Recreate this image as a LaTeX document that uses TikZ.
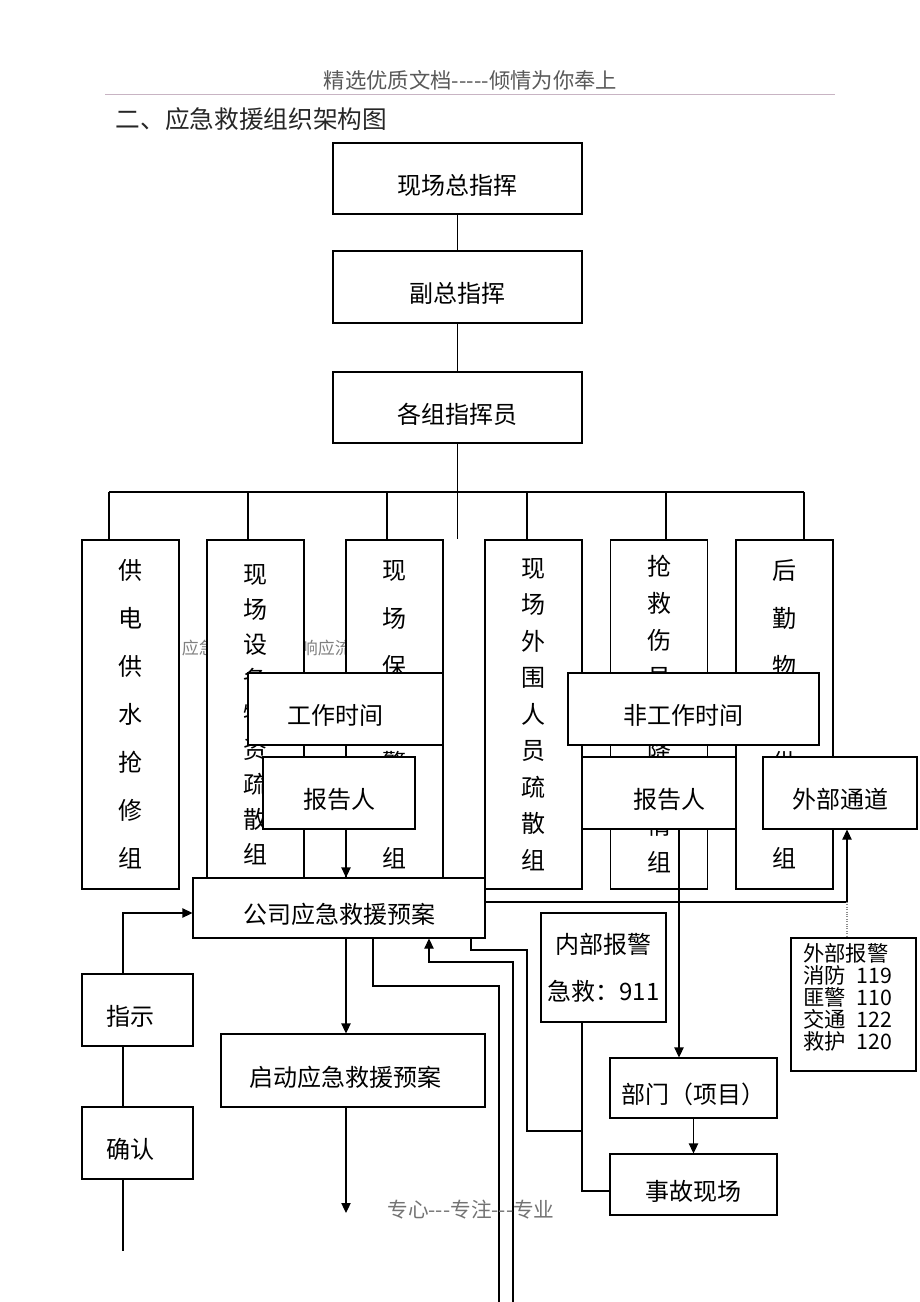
\documentclass[tikz,border=0pt]{standalone}
\usepackage{fontspec}
\newfontfamily\cjk{Noto Sans CJK SC}
\usetikzlibrary{calc,arrows.meta}
\definecolor{hdline}{RGB}{200,180,195}
\tikzset{
  box/.style={draw,fill=white,line width=0.8pt,inner sep=0pt,font=\cjk\fontsize{18}{18}\selectfont},
  sz/.style 2 args={minimum width=#1*0.75pt,minimum height=#2*0.75pt},
  dn/.style={text height=25pt,text depth=1.5pt},
  sh/.style={execute at begin node={\hspace*{#1}}},
  grp/.style={box,sz={97}{349},align=center,font=\cjk\fontsize{18}{#1}\selectfont}
}
\begin{document}
\begin{tikzpicture}[x=0.75pt,y=-0.75pt,line width=0.8pt,>={Triangle[length=7.5pt,width=7pt]}]
\useasboundingbox (0,0) rectangle (920,1302);
\node[font=\cjk\fontsize{16}{16}\selectfont,text=black!65] (hd) at (470.5,80) {精选优质文档-{}-{}-{}-{}-倾情为你奉上};
\draw[hdline,line width=0.7pt] (105,94) -- (835,94);
\node[anchor=west,font=\cjk\fontsize{18.5}{18.5}\selectfont,text=black!85] (tt) at (111,119) {二、应急救援组织架构图};
\node[anchor=west,font=\cjk\fontsize{12.75}{12.75}\selectfont,text=black!50] (bg) at (177,648) {应急救援预案及响应流程};

\node[box,dn,sz={249}{71}] (zzh) at (457.5,178.5) {现场总指挥};
\node[box,dn,sz={249}{72}] (fzh) at (457.5,287) {副总指挥};
\node[box,dn,sz={249}{71}] (gzy) at (457.5,407.5) {各组指挥员};
\draw (zzh) -- (fzh);
\draw (fzh) -- (gzy);

\node[grp=36pt] (c1) at (130.5,714.5) {供\\电\\供\\水\\抢\\修\\组};
\node[grp=26.25pt] (c2) at (255.5,714.5) {现\\场\\设\\备\\物\\资\\疏\\散\\组};
\node[grp=36pt] (c3) at (394.5,714.5) {现\\场\\保\\卫\\警\\戒\\组};
\node[grp=27.4pt] (c4) at (533.5,714.5) {现\\场\\外\\围\\人\\员\\疏\\散\\组};
\node[grp=27.75pt] (c5) at (659,714.5) {抢\\救\\伤\\员\\及\\降\\灾\\情\\组};
\node[grp=36pt] (c6) at (784.5,714.5) {后\\勤\\物\\资\\供\\应\\组};
\draw (gzy) -- (gzy.south |- c1.north);
\draw (109,492) -- (804,492);
\foreach \c/\x in {c1/109,c2/248,c3/387,c4/527,c5/666,c6/804}
  \draw (\x,492) -- (\c.north -| \x,0);

\node[box,dn,sz={195}{72},sh=-15pt] (gzsj) at (345.5,709) {工作时间};
\node[box,dn,sz={251}{72},sh=-15pt] (fgzsj) at (693.5,709) {非工作时间};
\node[box,dn,sz={152}{72}] (bgr1) at (339,793) {报告人};
\node[box,dn,sz={154}{72},sh=15pt] (bgr2) at (659,793) {报告人};
\node[box,dn,sz={154}{72}] (wbtd) at (840,793) {外部通道};
\node[box,dn,sz={292}{60}] (gsya) at (339,908) {公司应急救援预案};
\node[box,dn,sz={264}{73},sh=-12pt] (qd) at (353,1070.5) {启动应急救援预案};
\node[box,dn,sz={111}{72},sh=-10pt] (zs) at (137.5,1010) {指示};
\node[box,dn,sz={111}{72},sh=-10pt] (qr) at (137.5,1143) {确认};
\node[box,align=center,sz={125}{109},font=\cjk\fontsize{18}{35}\selectfont] (nbbj) at (603.5,967.5) {内部报警\\急救：911};
\node[box,dn,sz={167}{60}] (bm) at (693.5,1088) {部门（项目）};
\node[box,dn,sz={167}{61}] (sgxc) at (693.5,1184.5) {事故现场};
\node[box,align=left,text width=75.75pt,inner xsep=9pt,sz={125}{133},font=\cjk\fontsize{16}{16.5}\selectfont] (wbbj) at (853.5,1004.5)
  {外部报警\\消防\hspace{0.5em}119\\匪警\hspace{0.5em}110\\交通\hspace{0.5em}122\\救护\hspace{0.5em}120\\[-4.5pt]\mbox{}};

\draw[->] (bgr1.south -| 346,0) -- (gsya.north -| 346,0);
\draw[->] (bgr2.south -| 679,0) -- (bm.north -| 679,0);
\coordinate (wj) at (847,902);
\draw[->] (gsya.east |- wj) -- (wj) -- (wbtd.south -| wj);
\draw[densely dotted,black!45] (wj) -- (wbbj.north -| wj);
\draw[->] (gsya.south -| 346,0) -- (qd.north -| 346,0);
\coordinate (qe) at (346,1213);
\draw[->] (qd.south -| qe) -- (qe);
\draw (gsya.south -| 373,0) |- (499,986) -- (499,1302);
\draw[->] (513,1302) |- (429,962) -- (gsya.south -| 429,0);
\draw (gsya.south -| 471,0) |- (527,950) |- (582,1131);
\draw (nbbj.south -| 582,0) |- (sgxc.west |- 0,1191);
\draw[->] (bm) -- (sgxc);
\draw[->] (zs.north -| 123,0) |- (gsya.west |- 0,913);
\draw (zs.south -| 123,0) -- (qr.north -| 123,0);
\draw (qr.south -| 123,0) -- (123,1251);

\node[font=\cjk\fontsize{15.5}{15.5}\selectfont,text=black!55] (ft) at (471,1210) {专心-{}-{}-专注-{}-{}-专业};
\end{tikzpicture}
\end{document}
